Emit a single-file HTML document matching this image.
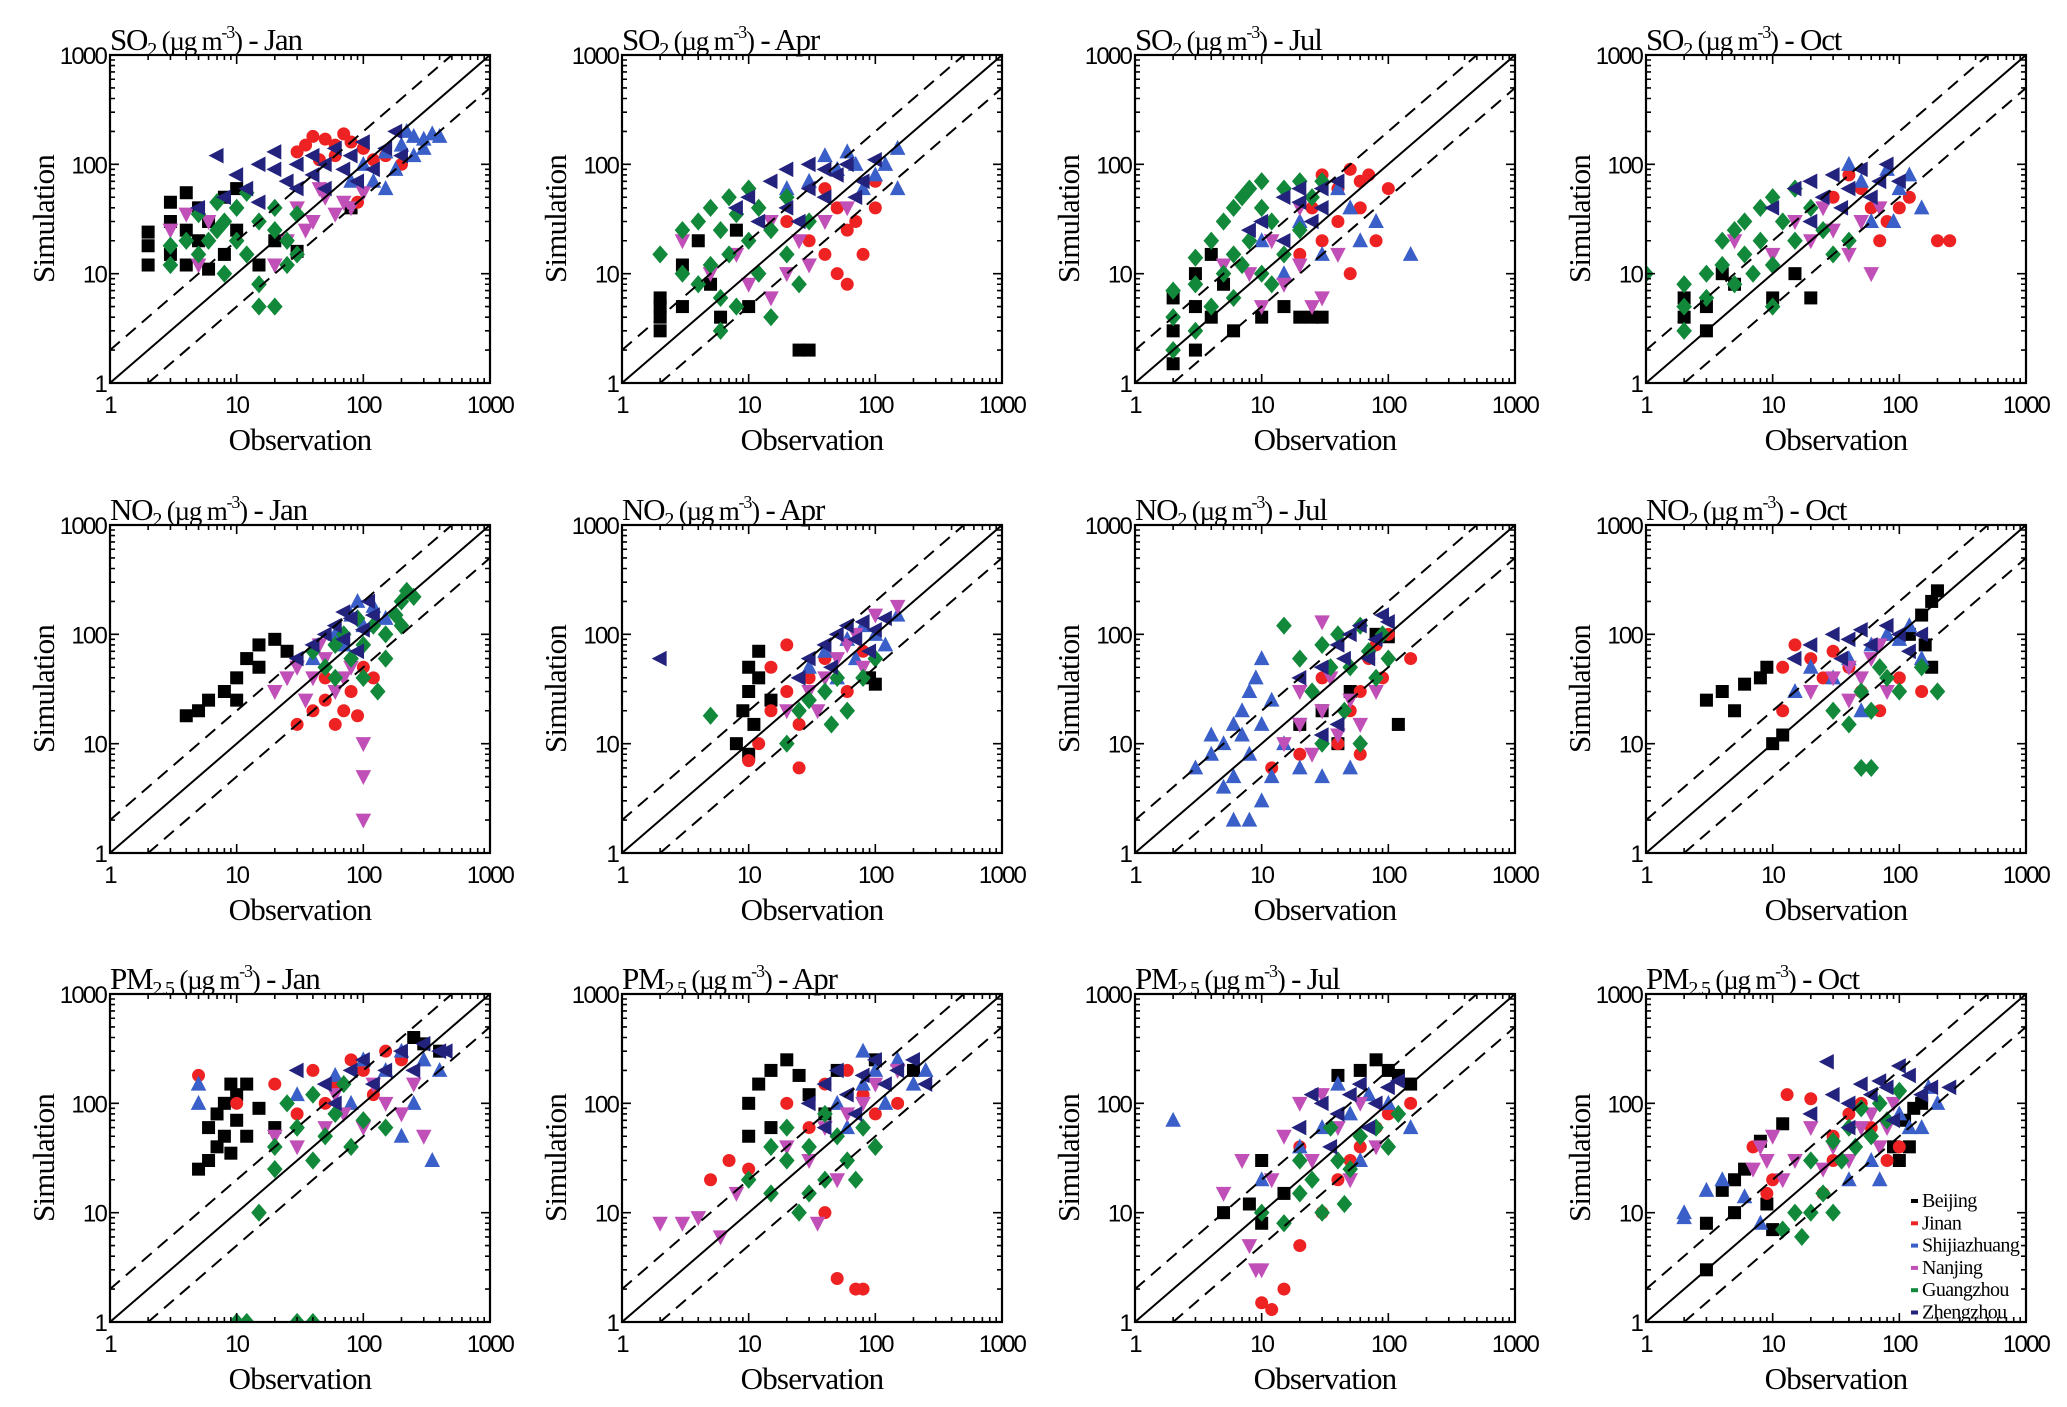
<!DOCTYPE html>
<html><head><meta charset="utf-8"><style>
html,body{margin:0;padding:0;background:#fff;}
svg{display:block;}
.tk{font-family:"Liberation Sans",sans-serif;font-size:24px;letter-spacing:-1.8px;fill:#000;}
.ttl{font-family:"Liberation Serif",serif;font-size:31px;fill:#000;letter-spacing:-1.2px;}
.ax{font-family:"Liberation Serif",serif;font-size:31px;fill:#000;letter-spacing:-0.8px;}
.lg{font-family:"Liberation Serif",serif;font-size:20px;fill:#000;letter-spacing:-0.6px;}
</style></head><body>
<svg id="fig" width="2067" height="1407" viewBox="0 0 2067 1407" xmlns="http://www.w3.org/2000/svg"></svg>
<script>
// City order: Beijing, Jinan, Shijiazhuang, Nanjing, Guangzhou, Zhengzhou ; points are [observation, simulation]
const cities = ["Beijing","Jinan","Shijiazhuang","Nanjing","Guangzhou","Zhengzhou"];
const species = ["SO2","NO2","PM2.5"];
const months = ["Jan","Apr","Jul","Oct"];
const tickValues = [1,10,100,1000];
const tickLabels = ["1","10","100","1000"];

const so2Jan = [
 [[2,12],[2,18],[2,24],[3,15],[3,30],[3,45],[4,12],[4,25],[4,55],[5,20],[5,40],[6,11],[6,30],[8,50],[8,15],[10,60],[10,25],[15,12],[20,20],[30,16],[80,40]],
 [[40,180],[50,170],[60,150],[70,190],[80,160],[100,140],[30,130],[35,150],[120,110],[90,45],[150,120],[200,100],[60,120],[45,110]],
 [[100,100],[150,130],[200,150],[250,180],[300,170],[350,190],[400,180],[180,90],[120,70],[250,120],[80,70],[300,140],[220,200],[150,60]],
 [[3,25],[4,35],[5,12],[6,30],[30,40],[40,30],[50,50],[60,35],[70,45],[80,40],[25,20],[35,25],[100,55],[20,12],[45,60]],
 [[3,12],[3,18],[4,20],[5,15],[5,35],[6,20],[7,25],[7,45],[8,10],[8,30],[10,40],[10,20],[12,15],[12,55],[15,30],[15,8],[20,25],[20,40],[25,20],[30,15],[15,5],[20,5],[25,12],[30,35]],
 [[10,80],[12,60],[15,100],[20,90],[20,130],[25,70],[30,100],[30,60],[40,120],[40,80],[50,100],[50,60],[60,140],[70,90],[80,120],[90,70],[100,160],[120,90],[150,140],[180,200],[200,120],[15,45],[8,50],[7,120],[5,40]]
];
const so2Apr = [
 [[2,3],[2,4],[2,5],[2,6],[3,5],[3,12],[4,20],[5,8],[6,4],[30,2],[25,2],[10,5],[8,25]],
 [[30,20],[40,15],[50,10],[60,25],[70,30],[80,15],[100,40],[50,40],[40,60],[60,8],[100,70],[20,30]],
 [[30,70],[50,90],[70,100],[100,80],[150,140],[120,100],[40,120],[60,130],[80,60],[20,60],[150,60]],
 [[3,20],[5,10],[8,15],[10,8],[15,6],[20,10],[25,20],[30,12],[40,30],[15,30],[60,40]],
 [[2,15],[3,10],[3,25],[4,8],[4,30],[5,12],[5,40],[6,6],[6,25],[7,15],[7,50],[8,5],[8,35],[10,20],[10,60],[12,10],[12,40],[15,4],[15,25],[20,15],[20,50],[25,8],[30,30],[6,3]],
 [[10,50],[15,70],[20,40],[20,90],[30,60],[30,100],[40,50],[50,80],[60,100],[80,70],[100,110],[25,30],[40,90],[70,50],[12,30],[8,40]]
];
const so2Jul = [
 [[2,1.5],[2,3],[2,6],[3,2],[3,5],[3,10],[4,4],[4,15],[5,8],[6,3],[10,4],[20,4],[25,4],[30,4],[15,5]],
 [[30,80],[40,60],[50,90],[60,70],[70,80],[25,40],[30,20],[40,30],[50,10],[20,15],[100,60],[80,20],[60,40]],
 [[10,20],[20,30],[30,15],[50,40],[80,30],[150,15],[40,60],[15,10],[60,20]],
 [[10,5],[15,8],[20,12],[25,5],[30,6],[8,10],[20,40],[40,15],[12,20],[5,12]],
 [[2,2],[2,4],[2,7],[3,3],[3,8],[3,14],[4,5],[4,20],[5,10],[5,30],[6,6],[6,40],[7,12],[7,50],[8,20],[8,60],[10,10],[10,40],[10,70],[12,30],[15,60],[15,15],[20,70],[20,25],[25,50],[30,70],[12,8],[6,15]],
 [[10,30],[15,50],[20,60],[25,30],[30,40],[40,70],[15,20],[20,45],[8,25],[30,60]]
];
const so2Oct = [
 [[2,4],[2,6],[3,3],[3,5],[4,10],[5,8],[10,6],[15,10],[20,6]],
 [[30,50],[50,60],[60,40],[80,30],[100,40],[200,20],[250,20],[40,80],[70,20],[120,50]],
 [[50,70],[80,90],[100,60],[120,80],[150,40],[60,30],[40,100],[90,30]],
 [[5,20],[10,15],[20,20],[30,25],[40,15],[50,30],[60,10],[25,40],[15,30],[70,40]],
 [[1,10],[2,3],[2,5],[2,8],[3,6],[3,10],[4,12],[4,20],[5,8],[5,25],[6,15],[6,30],[7,10],[8,20],[8,40],[10,12],[10,50],[12,30],[15,20],[15,60],[20,40],[25,25],[30,15],[40,20],[10,5]],
 [[10,40],[15,60],[20,70],[25,50],[30,80],[40,60],[50,90],[60,50],[80,100],[100,70],[20,30],[35,40],[70,70]]
];
const no2Jan = [
 [[4,18],[5,20],[6,25],[8,30],[10,40],[12,60],[15,80],[20,90],[10,25],[25,70],[15,50]],
 [[30,15],[40,20],[50,25],[60,15],[70,20],[80,30],[100,50],[50,40],[120,40],[90,18]],
 [[60,100],[80,150],[100,120],[120,180],[150,140],[70,80],[90,200],[40,60]],
 [[20,30],[25,40],[30,50],[40,40],[50,60],[60,30],[80,50],[100,10],[100,5],[100,2],[35,25],[45,80],[70,40]],
 [[50,50],[60,80],[70,100],[80,60],[100,80],[120,120],[150,100],[180,150],[200,200],[250,220],[150,60],[100,40],[130,30],[200,120],[220,250],[90,140],[40,70],[60,40]],
 [[40,80],[50,100],[60,120],[70,90],[80,140],[100,110],[120,150],[90,70],[30,60],[110,200],[70,160]]
];
const no2Apr = [
 [[8,10],[9,20],[10,30],[10,50],[12,70],[11,15],[10,8],[90,40],[100,35],[15,25],[12,40]],
 [[10,7],[12,10],[15,20],[15,50],[20,30],[20,80],[25,15],[30,40],[25,6],[40,60],[60,30],[80,70]],
 [[30,50],[40,70],[60,90],[80,120],[100,100],[120,80],[50,40],[150,150],[70,60]],
 [[20,20],[30,30],[40,40],[50,60],[60,80],[80,50],[100,150],[150,180],[35,20],[70,100]],
 [[5,18],[20,10],[25,20],[30,25],[40,30],[50,40],[60,20],[80,40],[100,60],[45,15]],
 [[2,60],[30,60],[40,80],[50,100],[60,120],[70,90],[80,130],[100,110],[120,140],[25,40],[45,50],[90,70]]
];
const no2Jul = [
 [[20,15],[30,20],[40,10],[50,30],[80,100],[100,95],[120,15]],
 [[40,10],[50,20],[60,30],[70,60],[80,80],[100,100],[150,60],[60,8],[90,40],[30,40],[12,6],[20,8]],
 [[3,6],[4,8],[5,10],[6,15],[7,20],[8,30],[9,40],[10,15],[12,25],[8,8],[6,5],[15,10],[10,60],[5,4],[20,6],[12,5],[30,5],[50,6],[4,12],[7,12],[6,2],[8,2],[10,3]],
 [[15,10],[20,15],[25,8],[30,20],[40,12],[50,25],[60,15],[35,40],[20,30],[80,30],[30,130]],
 [[20,60],[30,80],[40,100],[50,50],[60,120],[70,70],[80,40],[100,60],[25,30],[45,20],[35,50],[90,100],[60,10],[30,10],[15,120]],
 [[30,50],[40,80],[50,100],[60,120],[80,90],[100,130],[70,60],[45,60],[90,150],[20,40],[30,12],[40,15]]
];
const no2Oct = [
 [[3,25],[4,30],[5,20],[6,35],[8,40],[10,10],[12,12],[150,150],[180,200],[200,250],[120,100],[160,80],[180,50],[9,50]],
 [[12,50],[15,80],[20,60],[30,70],[40,50],[50,30],[70,20],[100,40],[150,30],[12,20],[25,40]],
 [[15,30],[20,50],[30,40],[40,60],[60,80],[80,100],[100,90],[120,120],[50,20],[150,60]],
 [[20,30],[30,40],[40,50],[50,40],[60,60],[80,30],[40,25],[70,80]],
 [[30,20],[40,15],[50,30],[60,20],[80,40],[100,30],[150,50],[200,30],[50,6],[60,6],[70,50]],
 [[20,80],[30,100],[40,90],[50,110],[60,80],[80,120],[100,100],[120,70],[15,60],[35,60],[150,100]]
];
const pmJan = [
 [[5,25],[6,30],[6,60],[7,40],[7,80],[8,50],[8,100],[9,35],[10,70],[10,120],[12,50],[12,150],[15,90],[300,350],[400,300],[250,400],[20,60],[9,150]],
 [[5,180],[10,100],[20,150],[40,200],[60,150],[80,250],[100,200],[150,300],[200,250],[50,100],[120,120],[30,80]],
 [[5,100],[5,150],[30,120],[60,180],[100,250],[150,200],[200,300],[300,250],[400,200],[350,30],[200,50],[250,100],[80,100]],
 [[20,50],[30,40],[50,60],[70,80],[100,60],[150,100],[200,80],[300,50],[120,150],[60,120],[250,150]],
 [[10,1],[12,1],[30,1],[40,1],[15,10],[20,40],[30,60],[40,30],[50,50],[60,80],[80,40],[100,70],[25,100],[40,120],[70,150],[20,25],[150,60]],
 [[50,150],[80,200],[100,250],[150,200],[200,300],[300,350],[400,300],[120,150],[250,200],[60,100],[30,200],[450,300]]
];
const pmApr = [
 [[10,100],[12,150],[15,200],[20,250],[25,180],[30,120],[40,80],[15,60],[50,200],[10,50],[100,250],[200,200]],
 [[5,20],[7,30],[10,25],[20,100],[40,150],[60,200],[80,120],[100,80],[150,100],[50,2.5],[70,2],[80,2],[30,60],[40,10]],
 [[50,100],[80,150],[100,200],[150,250],[200,150],[250,200],[120,100],[60,60],[80,300]],
 [[2,8],[3,8],[4,9],[6,6],[8,15],[20,40],[30,30],[40,60],[60,80],[80,100],[100,150],[150,200],[35,8],[50,20]],
 [[10,20],[15,15],[20,30],[25,10],[30,40],[40,20],[50,50],[60,30],[80,60],[100,40],[15,40],[20,60],[30,15],[40,80],[70,20]],
 [[30,100],[40,150],[50,200],[60,120],[80,180],[100,250],[120,150],[150,200],[200,250],[70,80],[250,150],[40,60]]
];
const pmJul = [
 [[5,10],[8,12],[10,8],[15,15],[60,200],[80,250],[100,200],[120,180],[150,150],[40,180],[10,30]],
 [[10,1.5],[12,1.3],[15,2],[20,5],[30,10],[40,20],[60,40],[80,60],[100,80],[50,30],[150,100],[20,40]],
 [[2,70],[10,20],[20,40],[30,60],[50,80],[70,120],[100,100],[40,150],[150,60],[60,30]],
 [[5,15],[7,30],[8,5],[10,3],[12,20],[15,50],[20,100],[30,120],[40,60],[60,100],[80,40],[9,3],[25,30],[50,20]],
 [[10,10],[15,8],[20,15],[25,20],[30,10],[40,30],[50,25],[60,50],[80,60],[100,40],[120,80],[20,30],[35,60],[45,12]],
 [[20,60],[30,100],[40,80],[50,120],[60,150],[80,100],[100,140],[35,40],[70,60],[25,120],[120,160]]
];
const pmOct = [
 [[3,8],[3,3],[4,16],[5,10],[5,20],[6,25],[8,45],[9,12],[10,7],[12,65],[90,40],[100,30],[130,90],[150,100],[120,40],[110,70]],
 [[7,40],[9,15],[10,20],[13,120],[20,110],[30,50],[40,80],[60,60],[80,30],[100,40],[50,100],[25,15],[30,30]],
 [[2,10],[2,9],[3,16],[4,20],[6,14],[8,8],[40,20],[60,30],[100,80],[120,60],[150,60],[200,100],[170,140],[70,20]],
 [[7,25],[8,40],[9,30],[10,50],[12,20],[15,30],[20,60],[30,40],[40,30],[50,60],[60,80],[70,40],[80,60],[90,100],[25,25]],
 [[12,7],[15,10],[17,6],[20,30],[25,15],[30,45],[35,30],[40,60],[50,90],[60,50],[70,100],[80,70],[100,130],[20,10],[30,10],[45,40]],
 [[20,80],[30,120],[40,100],[50,150],[60,120],[70,160],[80,140],[100,220],[120,180],[150,120],[180,140],[250,140],[27,240],[40,60],[90,70]]
];
const panelData = [[so2Jan,so2Apr,so2Jul,so2Oct],[no2Jan,no2Apr,no2Jul,no2Oct],[pmJan,pmApr,pmJul,pmOct]];

const NS = "http://www.w3.org/2000/svg";
const svg = document.getElementById("fig");
const colors = ["#000000","#ee2222","#3a5fc8","#c050b8","#12883a","#23237e"];
const shapes = ["square","circle","tri-up","tri-down","diamond","tri-left"];
const BW = 380, BH = 328;
const colX = [110,622,1135,1646], rowY = [55,525,994];

function mk(tag, attrs, parent){
  const e = document.createElementNS(NS, tag);
  for (const k in attrs) e.setAttribute(k, attrs[k]);
  (parent||svg).appendChild(e); return e;
}
function marker(g, shape, x, y, c){
  const s = 6.5; let e;
  if (shape==="square") e = mk("rect",{x:x-s,y:y-s,width:2*s,height:2*s,fill:c},g);
  else if (shape==="circle") e = mk("circle",{cx:x,cy:y,r:s,fill:c},g);
  else {
    let p;
    if (shape==="tri-up") p=[[x,y-s*1.3],[x+s*1.2,y+s],[x-s*1.2,y+s]];
    else if (shape==="tri-down") p=[[x,y+s*1.3],[x+s*1.2,y-s],[x-s*1.2,y-s]];
    else if (shape==="tri-left") p=[[x-s*1.3,y],[x+s,y-s*1.2],[x+s,y+s*1.2]];
    else p=[[x,y-s*1.4],[x+s*1.2,y],[x,y+s*1.4],[x-s*1.2,y]];
    e = mk("polygon",{points:p.map(q=>q.join(",")).join(" "),fill:c},g);
  }
  return e;
}

for (let r=0;r<3;r++) for (let c=0;c<4;c++){
  const L = colX[c], T = rowY[r];
  const sx = v => L + Math.log10(v)/3*BW;
  const sy = v => T + BH - Math.log10(v)/3*BH;
  const g = mk("g",{});
  
  
  const cid = "clip"+r+"_"+c;
  const cp = mk("clipPath",{id:cid},g); mk("rect",{x:L,y:T,width:BW,height:BH},cp);
  const pg = mk("g",{"clip-path":"url(#"+cid+")"},g);
  const data = panelData[r][c];
  for (let k=0;k<6;k++){
    const sg = mk("g",{},pg);
    
    
    data[k].forEach(p=>{
      const m = marker(sg, shapes[k], sx(p[0]), sy(p[1]), colors[k]);
      
      
    });
  }
  const l1 = mk("line",{x1:sx(1),y1:sy(1),x2:sx(1000),y2:sy(1000),stroke:"#000","stroke-width":2,"clip-path":"url(#"+cid+")"},g);
   
  const l2 = mk("line",{x1:sx(1),y1:sy(2),x2:sx(500),y2:sy(1000),stroke:"#000","stroke-width":2,"stroke-dasharray":"13,8","clip-path":"url(#"+cid+")"},g);
   
  const l3 = mk("line",{x1:sx(2),y1:sy(1),x2:sx(1000),y2:sy(500),stroke:"#000","stroke-width":2,"stroke-dasharray":"13,8","clip-path":"url(#"+cid+")"},g);
   
  const bx = mk("rect",{x:L,y:T,width:BW,height:BH,fill:"none",stroke:"#000","stroke-width":2.2},g);
   
  let d="";
  for (let dec=0;dec<3;dec++) for (let m=1;m<=10;m++){
    const v = Math.pow(10,dec)*m; if (m===10 && dec<2) continue;
    const maj = (m===1||m===10), len = maj?9:5;
    const X = sx(v), Y = sy(v);
    d += `M${X},${T+BH}v${-len}M${X},${T}v${len}M${L},${Y}h${len}M${L+BW},${Y}h${-len}`;
  }
  mk("path",{d:d,stroke:"#000","stroke-width":1.6,fill:"none"},g);
  tickValues.forEach((v,i)=>{
    const ty = mk("text",{x:L-4,y:sy(v)+9,"text-anchor":"end",class:"tk"},g); ty.textContent = tickLabels[i];
     
    const tx = mk("text",{x:sx(v),y:T+BH+30,"text-anchor":"middle",class:"tk"},g); tx.textContent = tickLabels[i];
     
  });
  const xt = mk("text",{x:L+BW/2,y:T+BH+67,"text-anchor":"middle",class:"ax"},g); xt.textContent="Observation";
   
  const yt = mk("text",{x:0,y:0,"text-anchor":"middle",class:"ax",transform:`translate(${L-56},${T+BH/2}) rotate(-90)`},g); yt.textContent="Simulation";
   
  const tt = mk("text",{x:L,y:T-5,class:"ttl"},g);
   
  const base = r===2?"PM":(r===0?"SO":"NO"), sub = r===2?"2.5":"2";
  tt.innerHTML = `${base}<tspan font-size="20" dy="6">${sub}</tspan><tspan font-size="27" dy="-6"> (µg m</tspan><tspan font-size="18" dy="-12">-3</tspan><tspan font-size="27" dy="12">)</tspan> - ${months[c]}`;
}

const lgX = 1915, lgY = 1207;
const lg = mk("g",{});
 
cities.forEach((name,k)=>{
  const y = lgY + k*22.3;
  const e = mk("g",{},lg);
  
  
  mk("rect",{x:lgX-4,y:y-8,width:7,height:4,fill:colors[k]},e);
  const t = mk("text",{x:lgX+7,y:y,class:"lg"},e); t.textContent = name;
});
</script>
</body></html>
